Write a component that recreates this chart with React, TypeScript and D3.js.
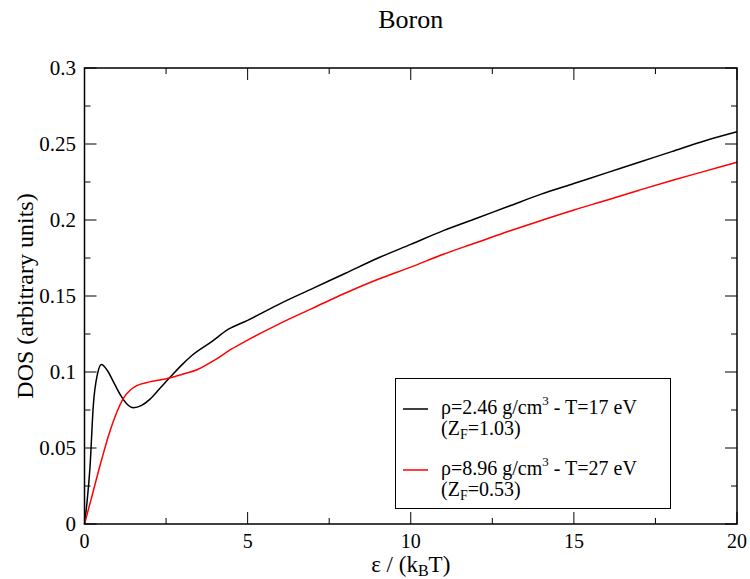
import React from "react";
import * as d3 from "d3";

const title = "Boron";
const xTicks = [0, 5, 10, 15, 20];
const xMinorTicks = [2.5, 7.5, 12.5, 17.5];
const yTicks = [0, 0.05, 0.1, 0.15, 0.2, 0.25, 0.3];
const yTickLabels = ["0", "0.05", "0.1", "0.15", "0.2", "0.25", "0.3"];
const yMinorTicks = [0.025, 0.075, 0.125, 0.175, 0.225, 0.275];

const blackX = [0, 0.08, 0.17, 0.27, 0.4, 0.52, 0.7, 0.9, 1.1, 1.3, 1.5, 1.75, 2.0, 2.3, 2.6, 3.0, 3.3, 3.9, 4.4, 5, 6, 7, 8, 9, 10, 11, 12, 13, 14, 15, 16, 17, 18, 19, 20];
const blackY = [0, 0.015, 0.038, 0.078, 0.099, 0.105, 0.101, 0.093, 0.085, 0.079, 0.0765, 0.078, 0.082, 0.089, 0.096, 0.105, 0.111, 0.12, 0.128, 0.134, 0.145, 0.155, 0.165, 0.175, 0.184, 0.193, 0.201, 0.209, 0.217, 0.224, 0.231, 0.238, 0.245, 0.252, 0.258];

const redX = [0, 0.2, 0.47, 0.78, 1.0, 1.2, 1.4, 1.6, 2.0, 2.6, 3.0, 3.5, 4.0, 4.5, 5, 6, 7, 8, 9, 10, 11, 12, 13, 14, 15, 16, 17, 18, 19, 20];
const redY = [0, 0.016, 0.038, 0.061, 0.074, 0.083, 0.088, 0.091, 0.0935, 0.096, 0.0985, 0.102, 0.108, 0.115, 0.121, 0.132, 0.142, 0.152, 0.161, 0.169, 0.1775, 0.185, 0.1926, 0.1997, 0.2066, 0.213, 0.2196, 0.226, 0.232, 0.238];

const W = 750, H = 579;
const L = 84.5, R = 737, T = 68, B = 524;
const FONT = "Liberation Serif, DejaVu Serif, serif";

export default function App() {
  const x = d3.scaleLinear().domain([0, 20]).range([L, R]);
  const y = d3.scaleLinear().domain([0, 0.3]).range([B, T]);
  const line = d3.line<[number, number]>().x(d => x(d[0])).y(d => y(d[1])).curve(d3.curveMonotoneX);
  const black = line(blackX.map((v, i) => [v, blackY[i]] as [number, number])) || "";
  const red = line(redX.map((v, i) => [v, redY[i]] as [number, number])) || "";

  const maj = 12, mnr = 6;

  return (
    <svg width={W} height={H} style={{ position: "absolute", left: 0, top: 0, fontFamily: FONT }}>
      <rect x={0} y={0} width={W} height={H} fill="#fff" />
      <text x={(L + R) / 2} y={28} textAnchor="middle" fontSize={26} style={{ fontFamily: FONT }}>{title}</text>

      {xTicks.map(t => (
        <g key={"xt" + t}>
          <line x1={x(t)} x2={x(t)} y1={B} y2={B - maj} stroke="#000" strokeWidth={1} />
          <line x1={x(t)} x2={x(t)} y1={T} y2={T + maj} stroke="#000" strokeWidth={1} />
          <text x={x(t)} y={548} textAnchor="middle" fontSize={20} style={{ fontFamily: FONT }}>{t}</text>
        </g>
      ))}
      {xMinorTicks.map(t => (
        <g key={"xm" + t}>
          <line x1={x(t)} x2={x(t)} y1={B} y2={B - mnr} stroke="#000" strokeWidth={1} />
          <line x1={x(t)} x2={x(t)} y1={T} y2={T + mnr} stroke="#000" strokeWidth={1} />
        </g>
      ))}
      {yTicks.map((t, i) => (
        <g key={"yt" + t}>
          <line x1={L} x2={L + maj} y1={y(t)} y2={y(t)} stroke="#000" strokeWidth={1} />
          <line x1={R} x2={R - maj} y1={y(t)} y2={y(t)} stroke="#000" strokeWidth={1} />
          <text x={76} y={y(t) + 7} textAnchor="end" fontSize={21} style={{ fontFamily: FONT }}>{yTickLabels[i]}</text>
        </g>
      ))}
      {yMinorTicks.map(t => (
        <g key={"ym" + t}>
          <line x1={L} x2={L + mnr} y1={y(t)} y2={y(t)} stroke="#000" strokeWidth={1} />
          <line x1={R} x2={R - mnr} y1={y(t)} y2={y(t)} stroke="#000" strokeWidth={1} />
        </g>
      ))}

      <path d={black} fill="none" stroke="#000" strokeWidth={1.5} />
      <path d={red} fill="none" stroke="#ff0000" strokeWidth={1.5} />

      <rect x={L} y={T} width={R - L} height={B - T} fill="none" stroke="#000" strokeWidth={1.5} />

      <text transform={`translate(33,${(T + B) / 2}) rotate(-90)`} textAnchor="middle" fontSize={24} style={{ fontFamily: FONT }}>DOS (arbitrary units)</text>
      <text x={(L + R) / 2} y={572} textAnchor="middle" fontSize={23} style={{ fontFamily: FONT }}>
        ε / (k<tspan dy={4} fontSize={16}>B</tspan><tspan dy={-4}>T)</tspan>
      </text>

      <rect x={395.5} y={378.5} width={275} height={130} fill="#fff" stroke="#000" strokeWidth={1} />
      <line x1={403} x2={428} y1={409} y2={409} stroke="#000" strokeWidth={1.5} />
      <text x={441} y={414} fontSize={20} style={{ fontFamily: FONT }}>
        ρ=2.46 g/cm<tspan dy={-9} fontSize={13}>3</tspan><tspan dy={9}> - T=17 eV</tspan>
      </text>
      <text x={441} y={435} fontSize={20} style={{ fontFamily: FONT }}>
        (Z<tspan dy={4} fontSize={14}>F</tspan><tspan dy={-4}>=1.03)</tspan>
      </text>
      <line x1={403} x2={428} y1={470} y2={470} stroke="#ff0000" strokeWidth={1.5} />
      <text x={441} y={475} fontSize={20} style={{ fontFamily: FONT }}>
        ρ=8.96 g/cm<tspan dy={-9} fontSize={13}>3</tspan><tspan dy={9}> - T=27 eV</tspan>
      </text>
      <text x={441} y={496} fontSize={20} style={{ fontFamily: FONT }}>
        (Z<tspan dy={4} fontSize={14}>F</tspan><tspan dy={-4}>=0.53)</tspan>
      </text>
    </svg>
  );
}
